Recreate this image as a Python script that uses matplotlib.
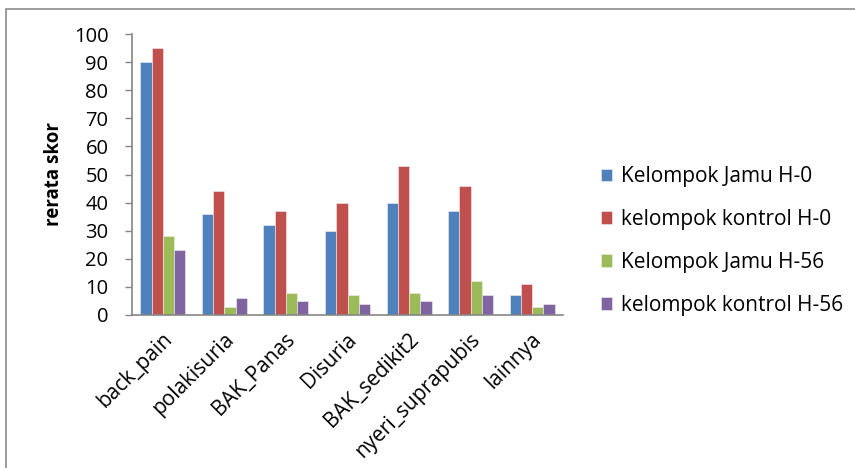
import numpy as np
import matplotlib
matplotlib.use("Agg")
from matplotlib import pyplot as plt
from matplotlib.patches import Rectangle

categories = ["back_pain", "polakisuria", "BAK_Panas", "Disuria",
              "BAK_sedikit2", "nyeri_suprapubis", "lainnya"]
jamu_h0 = [90, 36, 32, 30, 40, 37, 7]
kontrol_h0 = [95, 44, 37, 40, 53, 46, 11]
jamu_h56 = [28, 3, 8, 7, 8, 12, 3]
kontrol_h56 = [23, 6, 5, 4, 5, 7, 4]
series_labels = ["Kelompok Jamu H-0", "kelompok kontrol H-0",
                 "Kelompok Jamu H-56", "kelompok kontrol H-56"]
y_ticks = [0, 10, 20, 30, 40, 50, 60, 70, 80, 90, 100]

colors = ["#4F81BD", "#C0504D", "#9BBB59", "#8064A2"]

plt.rcParams['font.family'] = ['Open Sans', 'DejaVu Sans']

W, H = 855, 468
fig = plt.figure(figsize=(W / 100, H / 100), dpi=100)

# outer frame (left and top edges visible)
fig.add_artist(Rectangle((6 / W, -0.1), 2.0, (H - 9) / H + 0.1,
                         transform=fig.transFigure, fill=False,
                         edgecolor="#8c8c8c", linewidth=1.2))

ax = fig.add_axes([132 / W, 1 - 315 / H, (563 - 132) / W, (315 - 34) / H])

x = np.arange(len(categories))
bw = 0.183
series = [jamu_h0, kontrol_h0, jamu_h56, kontrol_h56]
for i, (vals, lab, col) in enumerate(zip(series, series_labels, colors)):
    ax.bar(x + (i - 1.5) * bw, vals, width=bw, color=col, label=lab,
           edgecolor="#f0f0f0", linewidth=0.4)

ax.set_xlim(-0.5, len(categories) - 0.5)
ax.set_ylim(0, 100)
ax.set_yticks(y_ticks)
ax.tick_params(axis='y', direction='out', length=5, width=1, color="#868686",
               labelsize=14.5, pad=12)
ax.tick_params(axis='x', length=0, labelsize=15, pad=10)
ax.set_xticks(x - 0.02)
ax.set_xticklabels(categories, rotation=45, ha='right', rotation_mode='anchor')

for side in ["top", "right"]:
    ax.spines[side].set_visible(False)
for side in ["left", "bottom"]:
    ax.spines[side].set_color("#868686")
    ax.spines[side].set_linewidth(1.2)

ax.set_ylabel("rerata skor", fontsize=13.5, fontweight='bold', labelpad=7)

ax.legend(loc='center left', bbox_to_anchor=(601 / W, 1 - 241 / H),
          bbox_transform=fig.transFigure, frameon=False, fontsize=15,
          handlelength=0.55, handleheight=0.55, handletextpad=0.4,
          labelspacing=1.05, borderaxespad=0, borderpad=0)

fig.savefig("out.png", dpi=100)
